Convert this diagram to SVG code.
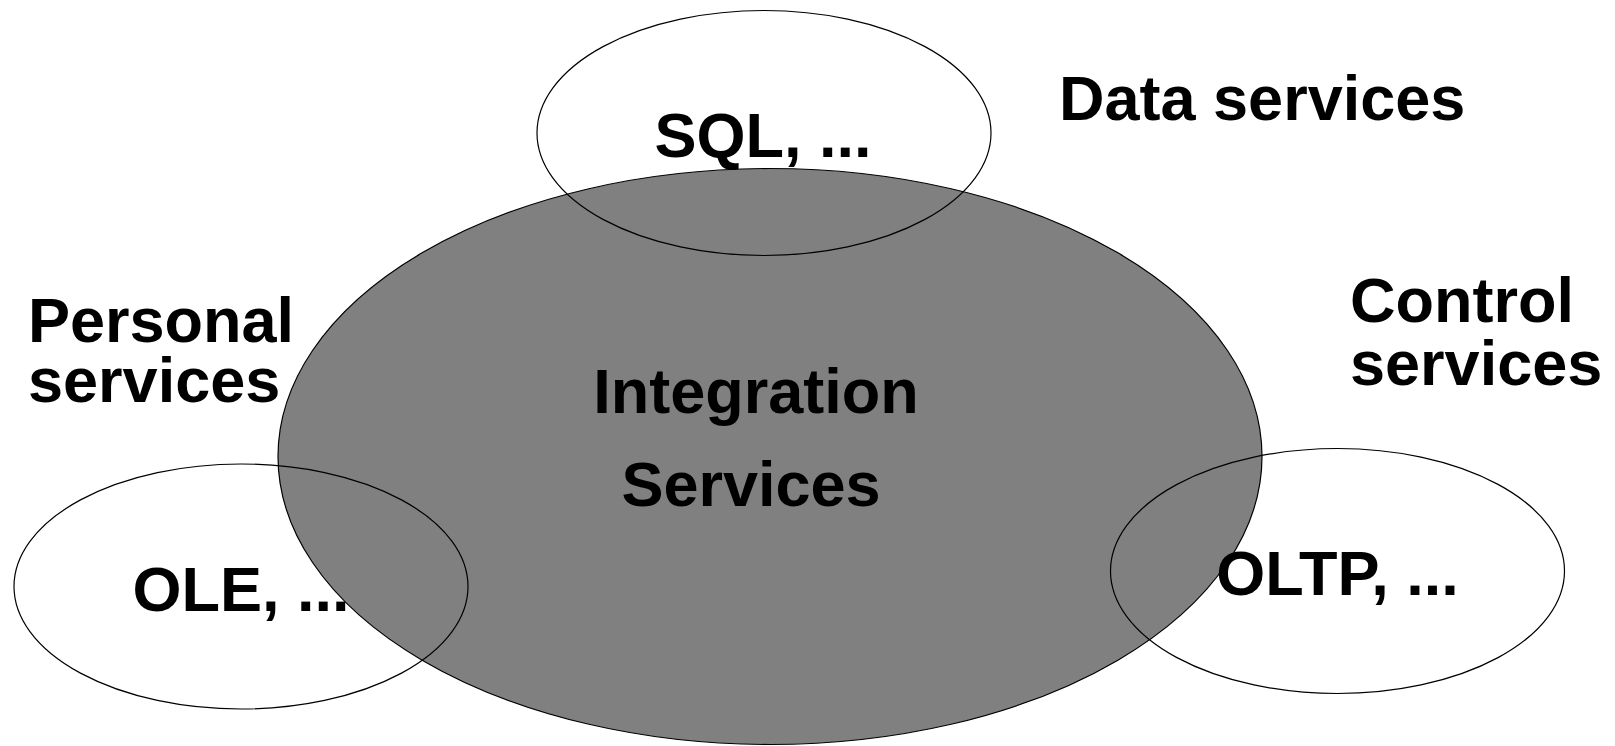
<svg xmlns="http://www.w3.org/2000/svg" width="1615" height="746" viewBox="0 0 1615 746">
<style>
.lbl{font-family:"Liberation Sans",Arial,sans-serif;font-weight:bold;font-size:63px;fill:#000}
.mid{text-anchor:middle}
.ring{fill:none;stroke:#000;stroke-width:1.2}
.core{fill:#808080;stroke:#000;stroke-width:1.2}
</style>
<rect width="1615" height="746" fill="#fff"/>
<g id="integration">
<ellipse class="core" cx="770" cy="456.5" rx="492" ry="288"/>
<text class="lbl mid" x="756" y="413">Integration</text>
<text class="lbl mid" x="751" y="506">Services</text>
</g>
<g id="sql">
<ellipse class="ring" cx="764" cy="133" rx="227" ry="122.5"/>
<text class="lbl mid" x="763" y="157">SQL, ...</text>
</g>
<g id="ole">
<ellipse class="ring" cx="241" cy="586.5" rx="227" ry="122.5"/>
<text class="lbl mid" x="241" y="611">OLE, ...</text>
</g>
<g id="oltp">
<ellipse class="ring" cx="1337.5" cy="571" rx="227" ry="122.5"/>
<text class="lbl mid" x="1337.5" y="595">OLTP, ...</text>
</g>
<g id="data-services">
<text class="lbl" x="1059" y="120">Data services</text>
</g>
<g id="personal-services">
<text class="lbl" x="28" y="342">Personal</text>
<text class="lbl" x="28" y="402">services</text>
</g>
<g id="control-services">
<text class="lbl" x="1350" y="322">Control</text>
<text class="lbl" x="1350" y="385">services</text>
</g>
<g id="connectors"/>
</svg>
